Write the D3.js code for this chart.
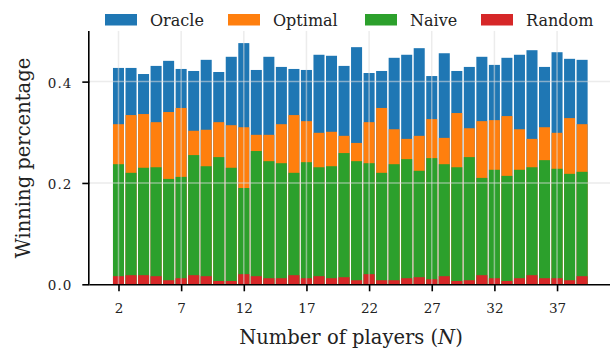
<!DOCTYPE html>
<html>
<head>
<meta charset="utf-8">
<script src="https://cdn.jsdelivr.net/npm/d3@7"></script>
<style>
  html, body { margin: 0; padding: 0; background: #fff; }
  svg { display: block; }
</style>
</head>
<body>
<svg id="chart" width="610" height="350"></svg>
<script>
// Number of players N = 2 .. 39
const players = d3.range(2, 40);

// Winning percentage of each strategy (bars share the same baseline, drawn back to front)
const oracle = [0.427, 0.427, 0.415, 0.431, 0.441, 0.425, 0.421, 0.443, 0.419, 0.449,
                0.476, 0.423, 0.449, 0.429, 0.425, 0.423, 0.453, 0.451, 0.431, 0.468,
                0.417, 0.421, 0.447, 0.453, 0.466, 0.411, 0.456, 0.421, 0.429, 0.449,
                0.433, 0.447, 0.453, 0.462, 0.429, 0.458, 0.445, 0.443];
const optimal = [0.316, 0.334, 0.336, 0.320, 0.340, 0.348, 0.303, 0.305, 0.320, 0.314,
                 0.310, 0.295, 0.295, 0.316, 0.334, 0.322, 0.299, 0.301, 0.293, 0.279,
                 0.320, 0.348, 0.306, 0.287, 0.293, 0.326, 0.289, 0.338, 0.308, 0.322,
                 0.324, 0.332, 0.306, 0.287, 0.310, 0.299, 0.328, 0.316];
const naive = [0.237, 0.220, 0.230, 0.231, 0.208, 0.212, 0.255, 0.233, 0.251, 0.230,
               0.190, 0.263, 0.243, 0.239, 0.220, 0.241, 0.231, 0.233, 0.259, 0.243,
               0.239, 0.220, 0.237, 0.247, 0.224, 0.249, 0.237, 0.231, 0.251, 0.210,
               0.226, 0.214, 0.226, 0.231, 0.245, 0.228, 0.218, 0.222];
const random = [0.016, 0.018, 0.018, 0.016, 0.008, 0.012, 0.018, 0.016, 0.0065, 0.0065,
                0.020, 0.016, 0.012, 0.012, 0.018, 0.012, 0.016, 0.012, 0.014, 0.008,
                0.020, 0.008, 0.008, 0.012, 0.014, 0.010, 0.016, 0.0065, 0.008, 0.018,
                0.012, 0.0065, 0.012, 0.018, 0.012, 0.012, 0.008, 0.016];

const seriesNames = ["Oracle", "Optimal", "Naive", "Random"];
const seriesValues = [oracle, optimal, naive, random];
const seriesColors = ["#1f77b4", "#ff7f0e", "#2ca02c", "#d62728"];

const xTicks = [2, 7, 12, 17, 22, 27, 32, 37];
const yTicks = [0.0, 0.2, 0.4];

const FONT = "'DejaVu Serif', serif";
const svg = d3.select("#chart");

const x = d3.scaleLinear().domain([-0.33, 41.33]).range([89.3, 611.3]);
const y = d3.scaleLinear().domain([0, 0.5]).range([284.3, 30.95]);
const barW = 0.88 * (x(1) - x(0));

// Bars: each strategy drawn from zero, later series on top
seriesValues.forEach((vals, i) => {
  svg.append("g")
    .selectAll("rect")
    .data(players.map((n, j) => ({ n, v: vals[j] })))
    .join("rect")
    .attr("x", d => x(d.n) - barW / 2)
    .attr("width", barW)
    .attr("y", d => y(d.v))
    .attr("height", d => y(0) - y(d.v))
    .attr("fill", seriesColors[i]);
});

// Light grid drawn over the bars
const grid = svg.append("g")
  .attr("stroke", "#dcdcdc")
  .attr("stroke-opacity", 0.55)
  .attr("stroke-width", 1.5);
grid.selectAll("line.gx")
  .data(xTicks)
  .join("line")
  .attr("class", "gx")
  .attr("x1", d => x(d)).attr("x2", d => x(d))
  .attr("y1", y(0)).attr("y2", y(0.5));
grid.selectAll("line.gy")
  .data(yTicks.filter(t => t > 0))
  .join("line")
  .attr("class", "gy")
  .attr("x1", x.range()[0]).attr("x2", x.range()[1])
  .attr("y1", d => y(d)).attr("y2", d => y(d));

// Axes
const xAxis = svg.append("g")
  .attr("transform", `translate(0,${y(0)})`)
  .call(d3.axisBottom(x).tickValues(xTicks).tickSize(7).tickPadding(12).tickFormat(d3.format("d")));
const yAxis = svg.append("g")
  .attr("transform", `translate(${x.range()[0]},0)`)
  .call(d3.axisLeft(y).tickValues(yTicks).tickSize(7).tickPadding(10).tickFormat(d3.format(".1f")));

[xAxis, yAxis].forEach(g => {
  g.select(".domain").attr("stroke", "#000").attr("stroke-width", 1.6);
  g.selectAll(".tick line").attr("stroke", "#000").attr("stroke-width", 1.6);
  g.selectAll(".tick text")
    .attr("fill", "#222")
    .style("font-family", FONT)
    .style("font-size", "13.5px");
});
yAxis.selectAll(".tick text").attr("dy", "0.4em").attr("letter-spacing", "1px");
xAxis.select(".domain").attr("d", `M${x.range()[0]},0.5H${x.range()[1]}`);
yAxis.select(".domain").attr("d", `M-0.5,${y(0)}V${y(0.5)}`);

// Axis titles
const xLabel = svg.append("text")
  .attr("x", 351)
  .attr("y", 344)
  .attr("text-anchor", "middle")
  .attr("fill", "#222")
  .style("font-family", FONT)
  .style("font-size", "19.5px");
xLabel.append("tspan").text("Number of players (");
xLabel.append("tspan").attr("font-style", "italic").text("N");
xLabel.append("tspan").text(")");

svg.append("text")
  .attr("transform", "translate(30,158) rotate(-90)")
  .attr("text-anchor", "middle")
  .attr("fill", "#222")
  .style("font-family", FONT)
  .style("font-size", "19.5px")
  .text("Winning percentage");

// Legend across the top
const legendX = [105, 228, 365, 481];
const legend = svg.append("g");
seriesNames.forEach((name, i) => {
  legend.append("rect")
    .attr("x", legendX[i]).attr("y", 14)
    .attr("width", 32).attr("height", 11.5)
    .attr("fill", seriesColors[i]);
  legend.append("text")
    .attr("x", legendX[i] + 45).attr("y", 26)
    .attr("fill", "#222")
    .style("font-family", FONT)
    .style("font-size", "16px")
    .text(name);
});
</script>
</body>
</html>
